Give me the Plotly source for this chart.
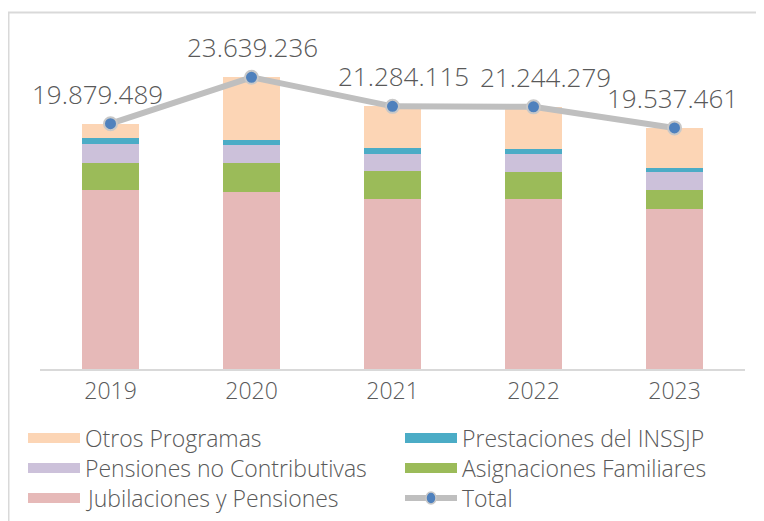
import plotly.graph_objects as go

years = ["2019", "2020", "2021", "2022", "2023"]
jubilaciones = [14.51, 14.37, 13.75, 13.80, 12.97]
asignaciones = [2.21, 2.35, 2.32, 2.19, 1.52]
pensiones_nc = [1.52, 1.43, 1.38, 1.43, 1.46]
inssjp = [0.49, 0.43, 0.49, 0.43, 0.37]
otros = [1.15, 5.06, 3.34, 3.39, 3.22]
totals = [19879489, 23639236, 21284115, 21244279, 19537461]

OFF = 8  # page offset of the figure
W, H = 764 - OFF, 521 - OFF
L, R, T, B = 40 - OFF, 19, 40 - OFF, 152
PW, PH = W - L - R, H - T - B
TEXT = "#595959"
FONT = "Open Sans"
WEIGHT = 300

def px(x):
    return (x - OFF - L) / PW

def py(y):
    return 1 - (y - OFF - T) / PH

series = [
    ("Jubilaciones y Pensiones", jubilaciones, "#E6B9B8"),
    ("Asignaciones Familiares", asignaciones, "#9BBB59"),
    ("Pensiones no Contributivas", pensiones_nc, "#CCC1DA"),
    ("Prestaciones del INSSJP", inssjp, "#4BACC6"),
    ("Otros Programas", otros, "#FCD5B5"),
]

fig = go.Figure()
for name, vals, col in series:
    fig.add_trace(go.Bar(x=years, y=vals, name=name, marker=dict(color=col, line=dict(width=0)),
                         showlegend=False))

tot_m = [t / 1e6 for t in totals]
fig.add_trace(go.Scatter(x=years, y=tot_m, name="Total", mode="lines+markers",
                         line=dict(color="#BFBFBF", width=6),
                         marker=dict(size=13, color="#4F81BD", line=dict(color="#C8C8C8", width=2)),
                         showlegend=False, cliponaxis=False))

xshifts = [-13, 1, 11, 12, -2]
for i, (t, tm, xs) in enumerate(zip(totals, tot_m, xshifts)):
    fig.add_annotation(x=i, y=tm, xref="x", yref="y", text=f"{t:,}".replace(",", "."),
                       showarrow=False, yshift=30, xshift=xs,
                       font=dict(size=26, color=TEXT, family=FONT, weight=WEIGHT))

shapes = [dict(type="rect", xref="paper", yref="paper", x0=px(8.5), x1=px(820), y0=py(12.5), y1=py(600),
               line=dict(color="#D9D9D9", width=2), layer="below")]

legend_items = [
    ("Otros Programas", "#FCD5B5", 28, 438, "bar"),
    ("Prestaciones del INSSJP", "#4BACC6", 405, 438, "bar"),
    ("Pensiones no Contributivas", "#CCC1DA", 28, 468, "bar"),
    ("Asignaciones Familiares", "#9BBB59", 405, 468, "bar"),
    ("Jubilaciones y Pensiones", "#E6B9B8", 28, 498, "bar"),
    ("Total", "#BFBFBF", 405, 498, "line"),
]
for name, col, x0, yc, kind in legend_items:
    if kind == "bar":
        shapes.append(dict(type="rect", xref="paper", yref="paper", x0=px(x0), x1=px(x0 + 52),
                           y0=py(yc + 5), y1=py(yc - 5), fillcolor=col, line=dict(width=0)))
    else:
        shapes.append(dict(type="line", xref="paper", yref="paper", x0=px(x0), x1=px(x0 + 52),
                           y0=py(yc), y1=py(yc), line=dict(color=col, width=6)))
        shapes.append(dict(type="circle", xref="paper", yref="paper", x0=px(x0 + 21), x1=px(x0 + 31),
                           y0=py(yc + 6), y1=py(yc - 6), fillcolor="#4F81BD",
                           line=dict(color="#C8C8C8", width=1.5)))
    fig.add_annotation(xref="paper", yref="paper", x=px(x0 + 56), y=py(yc), text=name,
                       showarrow=False, xanchor="left", yanchor="middle", borderpad=0,
                       font=dict(size=23, color=TEXT, family=FONT, weight=WEIGHT))

fig.update_layout(
    width=W, height=H, barmode="stack", bargap=0.6,
    margin=dict(l=L, r=R, t=T, b=B),
    paper_bgcolor="white", plot_bgcolor="white",
    font=dict(family=FONT, color=TEXT, weight=WEIGHT),
    shapes=shapes, showlegend=False,
    xaxis=dict(type="category", range=[-0.5, 4.5], showline=True, linecolor="#D9D9D9", linewidth=2,
               ticks="", tickfont=dict(size=23, color=TEXT, family=FONT, weight=WEIGHT), showgrid=False),
    yaxis=dict(range=[0, PH / 12.34], visible=False, showgrid=False, zeroline=False),
)

fig.write_html("out.html")
